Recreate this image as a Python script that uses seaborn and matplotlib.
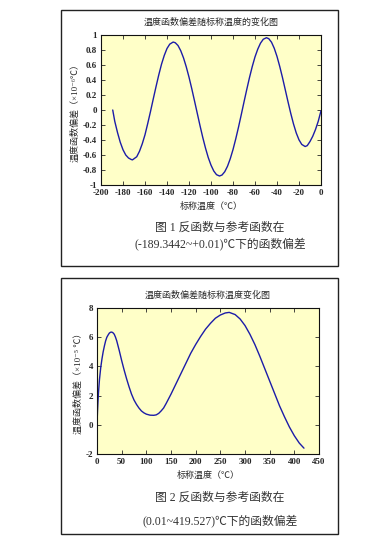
import numpy as np
import pandas as pd
import matplotlib
matplotlib.use("Agg")
import matplotlib.pyplot as plt
import seaborn as sns
from matplotlib.patches import Rectangle

# -------------------------
# Data
# -------------------------
t1 = [-189.34, -187.5, -185, -182.5, -180, -177.5, -175, -172.5, -171.4, -167.5, -165,
      -162.5, -160, -157.5, -155, -152.5, -150, -147.5, -145, -142.5, -140, -137.5, -134.4,
      -132.5, -130, -127.5, -125, -122.5, -120, -117.5, -115, -112.5, -110, -107.5, -105,
      -102.5, -100, -97.5, -95, -92.3, -90, -87.5, -85, -82.5, -80, -77.5, -75, -72.5, -70,
      -67.5, -65, -62.5, -60, -57.5, -55, -52.5, -49.6, -47.5, -45, -42.5, -40, -37.5, -35,
      -32.5, -30, -27.5, -25, -22.5, -20, -17.5, -14.4, -12.5, -10, -7.5, -5, -2.5, 0.01]
d1 = [0.0, -0.15, -0.30, -0.43, -0.53, -0.60, -0.64, -0.66, -0.665, -0.623, -0.55,
      -0.451, -0.33, -0.179, -0.02, 0.147, 0.31, 0.467, 0.61, 0.727, 0.82, 0.878, 0.906,
      0.897, 0.86, 0.790, 0.695, 0.576, 0.438, 0.285, 0.122, -0.043, -0.208, -0.365, -0.508,
      -0.634, -0.735, -0.813, -0.862, -0.88, -0.867, -0.823, -0.750, -0.650, -0.528, -0.385,
      -0.229, -0.063, 0.107, 0.273, 0.433, 0.579, 0.708, 0.811, 0.891, 0.943, 0.964, 0.951,
      0.904, 0.823, 0.714, 0.580, 0.431, 0.271, 0.110, -0.045, -0.186, -0.306, -0.398,
      -0.459, -0.487, -0.475, -0.42, -0.35, -0.26, -0.15, -0.01]

t2 = [0.01, 1, 2, 3, 5, 7.5, 10, 12.5, 15, 17.5, 20, 22.5, 25, 27.5, 30, 32.5, 35, 37.5,
      40, 45, 50, 55, 60, 65, 70, 75, 80, 85, 90, 95, 100, 107.5, 115, 120, 125, 130, 135,
      140, 150, 160, 170, 180, 190, 200, 210, 220, 230, 240, 250, 260, 268, 280, 290, 300,
      310, 320, 330, 340, 350, 360, 370, 380, 390, 400, 410, 419.527]
d2 = [0.0, 0.9, 1.6, 2.2, 3.1, 3.9, 4.5, 5.0, 5.4, 5.75, 6.0, 6.15, 6.28, 6.34, 6.35, 6.3,
      6.2, 6.0, 5.75, 5.1, 4.4, 3.75, 3.15, 2.6, 2.1, 1.7, 1.4, 1.15, 0.95, 0.82, 0.73,
      0.66, 0.65, 0.68, 0.78, 0.95, 1.15, 1.45, 2.1, 2.8, 3.5, 4.2, 4.9, 5.5, 6.05, 6.55,
      6.95, 7.3, 7.52, 7.66, 7.7, 7.55, 7.25, 6.8, 6.2, 5.5, 4.7, 3.85, 3.0, 2.15, 1.3,
      0.55, -0.15, -0.75, -1.25, -1.6]

titles = ["温度函数偏差随标称温度的变化图", "温度函数偏差随标称温度变化图"]
ylabels = ["温度函数偏差（×10⁻⁶℃）", "温度函数偏差（×10⁻⁵ ℃）"]
xlabel = "标称温度（℃）"
captions = [["图 1 反函数与参考函数在", "(-189.3442~+0.01)℃下的函数偏差"],
            ["图 2 反函数与参考函数在", "(0.01~419.527)℃下的函数偏差"]]
xticks = [[-200, -180, -160, -140, -120, -100, -80, -60, -40, -20, 0],
          [0, 50, 100, 150, 200, 250, 300, 350, 400, 450]]
yticks = [[-1, -0.8, -0.6, -0.4, -0.2, 0, 0.2, 0.4, 0.6, 0.8, 1],
          [-2, 0, 2, 4, 6, 8]]

# -------------------------
# Style
# -------------------------
sns.set_style("ticks")
plt.rcParams['font.family'] = ['Liberation Serif', 'Noto Sans CJK SC', 'DejaVu Sans']
plt.rcParams['axes.unicode_minus'] = False

fig = plt.figure(figsize=(3.88, 5.43), dpi=100)

# outer frames around each figure block
for y0 in [10, 278]:
    fig.patches.append(Rectangle((61 / 388, 1 - (y0 + 256) / 543), 277 / 388, 256 / 543,
                                 transform=fig.transFigure, fill=False,
                                 edgecolor='#222222', linewidth=1.0))

ax1 = fig.add_axes([101 / 388, 1 - 185 / 543, 220 / 388, 150 / 543])
ax2 = fig.add_axes([97 / 388, 1 - 454 / 543, 222 / 388, 146 / 543])

frames = [pd.DataFrame({'t': t1, 'd': d1}), pd.DataFrame({'t': t2, 'd': d2})]
limits = [((-200, 0), (-1, 1)), ((0, 450), (-2, 8))]

for i, (ax, df) in enumerate(zip([ax1, ax2], frames)):
    ax.set_facecolor('#ffffc8')
    sns.lineplot(data=df, x='t', y='d', ax=ax, color='#1c1ca8', linewidth=1.0)
    ax.set_xlim(*limits[i][0])
    ax.set_ylim(*limits[i][1])
    ax.set_xticks(xticks[i])
    ax.set_yticks(yticks[i])
    ax.set_xticklabels([f"{v:g}" for v in xticks[i]], fontsize=6.5, fontweight='bold')
    ax.set_yticklabels([f"{v:g}" for v in yticks[i]], fontsize=6.5, fontweight='bold')
    ax.tick_params(direction='in', length=3, width=0.6, top=True, right=True, pad=3)
    for s in ax.spines.values():
        s.set_linewidth(0.8)
        s.set_color('#111111')
    ax.set_title(titles[i], fontsize=6.5, pad=7)
    ax.set_xlabel(xlabel, fontsize=6.5, labelpad=3)
    ax.set_ylabel(ylabels[i], fontsize=6.5, labelpad=2)

# captions
for i, (ya, yb) in enumerate([(228, 244), (498, 521)]):
    fig.text(220 / 388, 1 - ya / 543, captions[i][0], ha='center', va='center',
             fontsize=8.5, color='#333333')
    fig.text(220 / 388, 1 - yb / 543, captions[i][1], ha='center', va='center',
             fontsize=8.5, color='#333333')

fig.savefig('out.png', dpi=100)
